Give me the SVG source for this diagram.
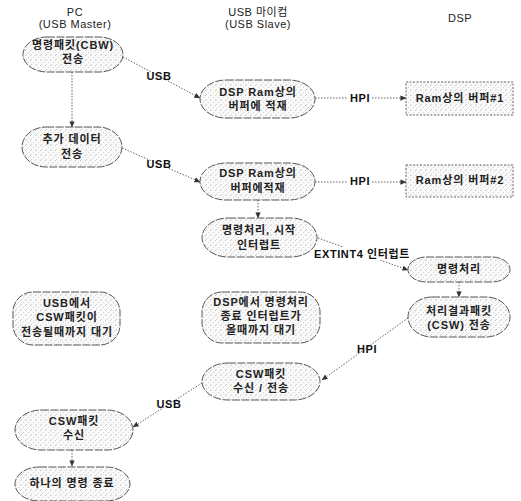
<svg xmlns="http://www.w3.org/2000/svg" width="521" height="501" viewBox="0 0 521 501">
<style>
.hdr{font-family:"Liberation Sans","Noto Sans CJK KR",sans-serif;font-size:11px;fill:#222;text-anchor:middle;letter-spacing:0.5px}
.t{font-family:"Liberation Sans","Noto Sans CJK KR",sans-serif;font-size:11px;font-weight:bold;fill:#222;text-anchor:middle;letter-spacing:0.9px}
.lbl{font-family:"Liberation Sans","Noto Sans CJK KR",sans-serif;font-size:11px;font-weight:bold;fill:#111;text-anchor:middle;letter-spacing:0.6px}
.n{fill:url(#dots);stroke:#444;stroke-width:0.9;stroke-dasharray:8 1.5}
.r{fill:url(#dots);stroke:#555;stroke-width:0.9;stroke-dasharray:2 1.5}
.c{fill:none;stroke:#555;stroke-width:0.9;stroke-dasharray:1.5 1.5;marker-end:url(#ah)}
</style>
<defs>
<pattern id="dots" width="5" height="5" patternUnits="userSpaceOnUse">
<rect width="5" height="5" fill="#f9f9f9"/>
<rect x="0" y="0" width="1" height="1" fill="#c8c8c8"/>
<rect x="3" y="2" width="1" height="1" fill="#d4d4d4"/>
<rect x="1" y="4" width="1" height="1" fill="#d0d0d0"/>
</pattern>
<marker id="ah" viewBox="0 0 8 8" refX="7.5" refY="4" markerWidth="6" markerHeight="6" orient="auto" markerUnits="userSpaceOnUse">
<path d="M0,0.5 L8,4 L0,7.5 Z" fill="#333"/>
</marker>
</defs>
<rect width="521" height="501" fill="#fff"/>
<g id="headers">
<text class="hdr" x="75" y="16">PC</text>
<text class="hdr" x="75" y="28">(USB Master)</text>
<text class="hdr" x="258" y="16">USB 마이컴</text>
<text class="hdr" x="258" y="28">(USB Slave)</text>
<text class="hdr" x="460" y="22">DSP</text>
</g>
<g id="connectors">
<path class="c" d="M123,57 L200,98"/>
<path class="c" d="M72,72 L72,127"/>
<path class="c" d="M315,98 L406,98"/>
<path class="c" d="M122,148 L200,182"/>
<path class="c" d="M315,182 L406,182"/>
<path class="c" d="M258,200 L258,218"/>
<path class="c" d="M318,238 L408,270"/>
<path class="c" d="M459,282 L459,297"/>
<path class="c" d="M408,318 L322,380"/>
<path class="c" d="M202,383 L133,427"/>
<path class="c" d="M72,450 L72,466"/>
<text class="lbl" x="159" y="80">USB</text>
<rect x="348" y="91" width="24" height="13" fill="#fff"/>
<text class="lbl" x="360" y="102">HPI</text>
<text class="lbl" x="159" y="168">USB</text>
<rect x="348" y="175" width="24" height="13" fill="#fff"/>
<text class="lbl" x="360" y="185">HPI</text>
<rect x="311" y="247" width="102" height="13" fill="#fff"/>
<text class="lbl" x="362" y="258">EXTINT4 인터럽트</text>
<text class="lbl" x="367" y="353">HPI</text>
<text class="lbl" x="169" y="408">USB</text>
</g>
<g id="n1"><rect class="n" x="23" y="37" width="100" height="35" rx="24" ry="17.5"/>
<text class="t" x="73" y="49">명령패킷(CBW)</text><text class="t" x="73" y="63">전송</text></g>
<g id="n2"><rect class="n" x="200" y="80" width="115" height="38" rx="26" ry="19"/>
<text class="t" x="258" y="96">DSP Ram상의</text><text class="t" x="258" y="110">버퍼에 적재</text></g>
<g id="n3"><rect class="r" x="406" y="82" width="107" height="33"/>
<text class="t" x="460" y="102">Ram상의 버퍼#1</text></g>
<g id="n4"><rect class="n" x="22" y="127" width="100" height="40" rx="24" ry="20"/>
<text class="t" x="72" y="143">추가 데이터</text><text class="t" x="72" y="158">전송</text></g>
<g id="n5"><rect class="n" x="200" y="163" width="115" height="37" rx="26" ry="18.5"/>
<text class="t" x="258" y="177">DSP Ram상의</text><text class="t" x="258" y="192">버퍼에적재</text></g>
<g id="n6"><rect class="r" x="406" y="165" width="107" height="32"/>
<text class="t" x="460" y="184">Ram상의 버퍼#2</text></g>
<g id="n7"><rect class="n" x="202" y="218" width="115" height="39" rx="26" ry="19.5"/>
<text class="t" x="259" y="234">명령처리, 시작</text><text class="t" x="259" y="249">인터럽트</text></g>
<g id="n8"><rect class="n" x="408" y="257" width="102" height="25" rx="18" ry="12.5"/>
<text class="t" x="459" y="273">명령처리</text></g>
<g id="n9"><rect class="n" x="408" y="297" width="102" height="40" rx="24" ry="20"/>
<text class="t" x="459" y="315">처리결과패킷</text><text class="t" x="459" y="329">(CSW) 전송</text></g>
<g id="n10"><rect class="n" x="13" y="292" width="107" height="53" rx="20" ry="20"/>
<text class="t" x="67" y="307">USB에서</text><text class="t" x="67" y="321">CSW패킷이</text><text class="t" x="67" y="336">전송될때까지 대기</text></g>
<g id="n11"><rect class="n" x="202" y="292" width="118" height="51" rx="20" ry="20"/>
<text class="t" x="261" y="306">DSP에서 명령처리</text><text class="t" x="261" y="320">종료 인터럽트가</text><text class="t" x="261" y="334">올때까지 대기</text></g>
<g id="n12"><rect class="n" x="202" y="363" width="118" height="37" rx="26" ry="18.5"/>
<text class="t" x="261" y="378">CSW패킷</text><text class="t" x="261" y="392">수신 / 전송</text></g>
<g id="n13"><rect class="n" x="15" y="410" width="118" height="40" rx="26" ry="20"/>
<text class="t" x="74" y="425">CSW패킷</text><text class="t" x="74" y="439">수신</text></g>
<g id="n14"><rect class="n" x="15" y="467" width="115" height="34" rx="24" ry="17"/>
<text class="t" x="72" y="487">하나의 명령 종료</text></g>
</svg>
